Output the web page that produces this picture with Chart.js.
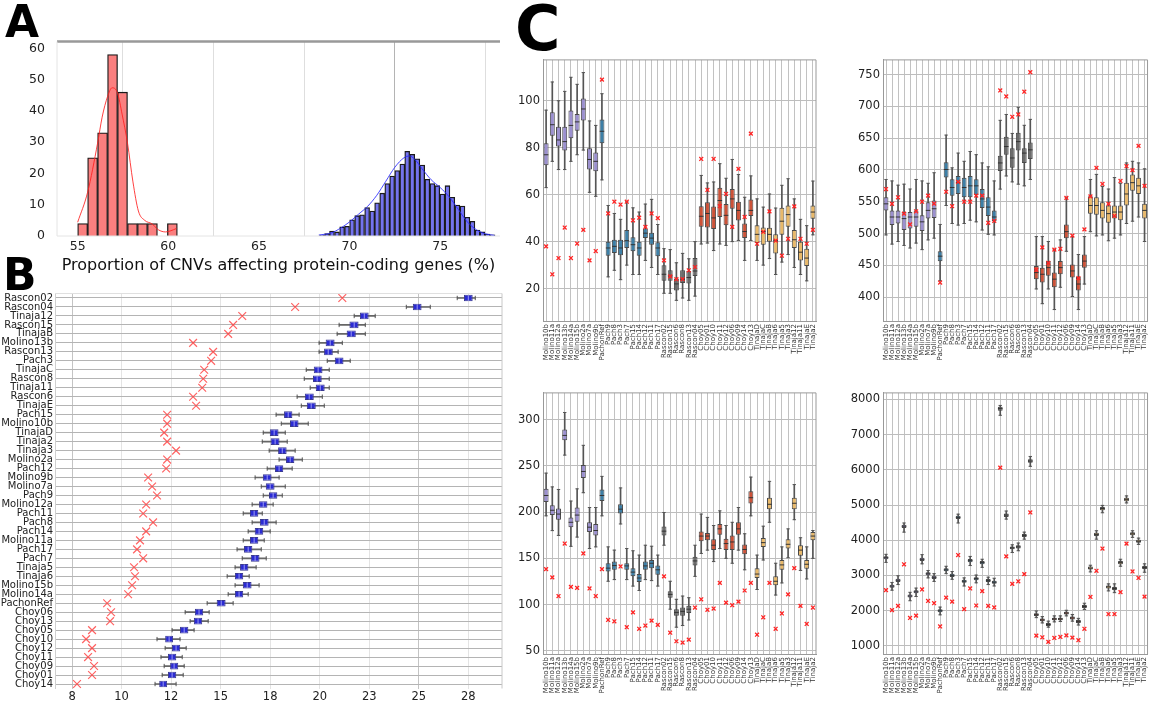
<!DOCTYPE html>
<html>
<head>
<meta charset="utf-8">
<script src="https://cdn.jsdelivr.net/npm/chart.js@4.4.0/dist/chart.umd.min.js"></script>
<style>
  html, body { margin: 0; padding: 0; background: #fff; }
  body { width: 1156px; height: 703px; position: relative; overflow: hidden; font-family: 'DejaVu Sans', sans-serif; }
  canvas { position: absolute; }
  .tag { position: absolute; font-weight: bold; color: #000; line-height: 1; z-index: 5; }
</style>
</head>
<body>
<canvas id="cvA" width="510" height="245" style="left:0;top:30px"></canvas>
<canvas id="cvB" width="510" height="418" style="left:0;top:285px"></canvas>
<canvas id="cvC1" width="320" height="320" style="left:505px;top:50px"></canvas>
<canvas id="cvC2" width="311" height="320" style="left:845px;top:50px"></canvas>
<canvas id="cvC3" width="320" height="320" style="left:505px;top:383px"></canvas>
<canvas id="cvC4" width="311" height="320" style="left:845px;top:383px"></canvas>
<div class="tag" style="left:5px;top:0;font-size:44px">A</div>
<div class="tag" style="left:3px;top:253px;font-size:44px">B</div>
<div class="tag" style="left:515px;top:-2px;font-size:62px">C</div>

<script>
// ---------- A : histogramme des proportions ----------
const redBins   = [55.275, 55.825, 56.375, 56.925, 57.475, 58.025, 58.575, 59.125, 59.675, 60.225];
const redCounts = [4, 25, 33, 58, 46, 4, 4, 4, 0, 4];
const blueBins  = [68.48, 68.76, 69.03, 69.31, 69.59, 69.86, 70.14, 70.42, 70.69, 70.97, 71.25, 71.52,
                   71.80, 72.08, 72.35, 72.63, 72.91, 73.18, 73.46, 73.74, 74.01, 74.29, 74.57, 74.84,
                   75.12, 75.40, 75.67, 75.95, 76.23, 76.50, 76.78, 77.06, 77.33, 77.61, 77.89];
const blueCounts = [0.3, 0.8, 1.6, 1.3, 2.9, 3.1, 5.2, 6.5, 6.8, 9.1, 8.0, 10.6, 13.7, 16.8, 19.2, 20.9,
                    23.0, 27.1, 26.1, 24.7, 22.7, 18.1, 16.8, 16.1, 13.4, 16.1, 12.4, 9.9, 9.6, 6.0, 4.7,
                    1.9, 1.3, 0.6, 0.4];
const redKdeX  = [55.0, 55.55, 56.1, 56.35, 56.65, 56.9, 57.2, 57.45, 57.75, 58.05, 58.35, 58.7, 59.1, 59.45, 59.85, 60.1, 60.45];
const redKdeY  = [4.4, 14, 29.7, 38, 44.6, 47.4, 45.7, 39, 29.7, 17.3, 8, 5, 3.9, 2, 1.3, 1.6, 2.4];
const blueKdeX = [68.3, 69, 69.5, 70, 70.5, 71, 71.5, 72, 72.5, 73, 73.3, 73.6, 74, 74.5, 75, 75.5, 76, 76.5, 77, 77.5, 78];
const blueKdeY = [0.3, 1, 2.5, 4.5, 7, 9.5, 13, 17.5, 22, 25, 25.6, 24.5, 21.5, 18, 15.5, 12.5, 8.5, 4.5, 2, 0.7, 0.2];
const aTicksX = [55, 60, 65, 70, 75];
const aTicksY = [0, 10, 20, 30, 40, 50, 60];

// ---------- B : boîtes horizontales ----------
const bLabels = ['Rascon02','Rascon04','Tinaja12','Rascon15','TinajaB','Molino13b','Rascon13','Pach3','TinajaC','Rascon8',
  'Tinaja11','Rascon6','TinajaE','Pach15','Molino10b','TinajaD','Tinaja2','Tinaja3','Molino2a','Pach12','Molino9b',
  'Molino7a','Pach9','Molino12a','Pach11','Pach8','Pach14','Molino11a','Pach17','Pach7','Tinaja5','Tinaja6',
  'Molino15b','Molino14a','PachonRef','Choy06','Choy13','Choy05','Choy10','Choy12','Choy11','Choy09','Choy01','Choy14'];
const bMed = [27.50,24.92,22.25,21.74,21.59,20.53,20.43,20.98,19.92,19.87,20.03,19.47,19.57,18.41,18.71,17.70,17.75,18.11,
  18.51,17.95,17.35,17.50,17.65,17.15,16.69,17.20,16.94,16.69,16.39,16.74,16.19,15.93,16.34,15.93,15.03,13.91,13.86,
  13.16,12.40,12.75,12.55,12.65,12.55,12.10];
const bQ1 = [27.28,24.70,22.03,21.50,21.36,20.30,20.22,20.76,19.70,19.66,19.80,19.25,19.35,18.20,18.50,17.48,17.52,17.90,
  18.30,17.74,17.13,17.28,17.44,16.94,16.48,16.98,16.72,16.48,16.18,16.52,15.98,15.72,16.12,15.72,14.80,13.70,13.65,
  12.95,12.20,12.54,12.34,12.45,12.34,11.90];
const bQ3 = [27.72,25.14,22.47,21.96,21.82,20.75,20.66,21.20,20.14,20.10,20.25,19.70,19.80,18.62,18.93,17.92,17.97,18.33,
  18.72,18.16,17.57,17.72,17.86,17.36,16.90,17.42,17.15,16.90,16.60,16.96,16.40,16.14,16.56,16.14,15.25,14.12,14.07,
  13.37,12.60,12.96,12.76,12.86,12.76,12.30];
const bLo = [26.94,24.37,21.74,20.98,20.88,19.97,19.97,20.38,19.32,19.22,19.52,18.86,19.07,17.80,18.06,17.15,17.10,17.45,
  17.95,17.35,16.74,17.05,17.15,16.59,16.14,16.59,16.39,16.14,15.83,16.09,15.73,15.33,15.73,15.38,14.32,13.21,13.46,
  12.55,11.79,12.20,11.99,12.15,12.05,11.69];
const bHi = [27.85,25.58,22.80,22.30,22.30,21.14,20.93,21.54,20.48,20.48,20.48,20.13,20.23,18.96,19.42,18.26,18.36,18.76,
  19.12,18.61,17.95,18.26,18.11,17.65,17.10,17.80,17.50,17.20,17.05,17.30,16.79,16.44,16.94,16.39,15.63,14.42,14.37,
  13.66,12.95,13.26,13.06,13.16,13.11,12.75];
const bRef = [21.14,18.76,16.09,15.63,15.38,13.61,14.62,14.52,14.17,14.12,14.07,13.61,13.76,12.30,12.30,12.15,12.30,12.75,
  12.30,12.25,11.34,11.54,11.79,11.24,11.09,11.59,11.24,10.93,10.78,11.09,10.63,10.68,10.53,10.33,9.27,9.47,9.42,
  8.51,8.21,8.51,8.31,8.61,8.51,7.75];
const bTickVals = [7.5, 10, 12.5, 15, 17.5, 20, 22.5, 25, 27.5];
const bTickText = ['8', '10', '12', '15', '18', '20', '23', '25', '28'];

// ---------- C : quatre panneaux de boîtes ----------
const cLabels = ['Molino10b','Molino11a','Molino12a','Molino13b','Molino14a','Molino15b','Molino2a','Molino7a','Molino9b',
  'PachonRef','Pach9','Pach8','Pach3','Pach7','Pach15','Pach14','Pach12','Pach11','Pach17',
  'Rascon02','Rascon15','Rascon6','Rascon8','Rascon13','Rascon04',
  'Choy05','Choy01','Choy10','Choy11','Choy12','Choy06','Choy09','Choy14','Choy13',
  'TinajaD','TinajaC','TinajaB','Tinaja6','Tinaja5','Tinaja3','Tinaja12','Tinaja11','TinajaE','Tinaja2'];

const c1Lo  = [63,74.2,70.7,70.7,74.2,77,79,61,59.3,66.3,25,27.8,23.8,30,26,26,32,29,26,18,18,15,16,15,16.8,39,39.4,36.2,39,38.4,40,40.5,32,40.5,32,30,32.8,26,31.3,34.5,29,26,23.3,42.9];
const c1Q1  = [72.5,85.1,80.5,78.8,84,87.2,91.6,70.7,70,81.9,34,35.2,34.2,37.3,35.9,34,41.5,38.7,33.8,23.3,23.3,19.2,22.4,22.2,25.4,46.3,46,45.4,50.5,47,54,49,41.5,50.9,39.4,38.7,40,35,42.9,46.3,37.3,32,29.6,49.8];
const c1Med = [77,89.8,83.3,82.6,89.5,91,96.5,75,74.2,87,37.3,38,37.3,40.4,38.7,37.3,43.6,41.5,37.3,26.1,25.4,22,24,24.7,27.5,50.8,52,50.1,57.5,51.2,58.2,53.3,44.3,53.3,43.1,44.3,43.1,40.4,48.7,51.5,40.8,35.5,33,52.6];
const c1Q3  = [81.9,95.1,88.9,88.9,95.8,94.4,101,79.8,78,92,40,40.8,40.8,45,41.9,40,45.6,43.8,39.7,29.9,27.8,24.3,27.8,27.5,33,55.1,56.8,55,63,56,62.4,57,47.7,57.9,47,46,45.9,43.1,54.4,55.4,45,40,37,55.4];
const c1Hi  = [96,108,100,104,110,107,112,91.4,89.5,103,55.4,52,49.5,57,54.4,52.6,56,58,47.3,37,36.6,31,35,32.7,40,68.2,65,65.4,73.2,67,75,68.6,58.9,68,58.2,54.7,60.3,54.3,64,66.8,58.2,49.5,46.8,65.8];
const c1Ref = [38,26.1,33,46,33,39.2,45,32,36,109,52,57,55.8,57,49.1,50.2,46.3,52,50,32,25.2,24,24,27.8,29.2,75.2,62,75.2,55.1,60.3,46.3,71,50.5,86,39.1,44.2,52.9,40.4,34,41.2,55,41.2,39.1,45];
const c1Ticks = [20, 40, 60, 80, 100];

const c2Lo  = [497.8,483.4,487.5,481.3,477.2,485,474.7,490,492.7,425.8,544.1,515.8,513.3,515.8,521,518.4,505.5,498.8,497.8,569.9,590.5,581.2,577.6,575,585,412.9,389.7,412.9,380.5,415.5,472.1,401,380.5,420.6,502.9,496.3,497.8,488.6,492.7,497.8,515.8,519.4,526,487.5];
const c2Q1  = [536.4,513.3,515.8,505.5,508,510.7,504,523.5,524.6,456.6,588,559.6,562.2,557,557,560.6,540,527.7,519.4,598.2,623.9,603.3,630.6,611,617.2,428.3,423.2,433.5,415.5,436,492.7,430.9,410.3,446.4,531.3,529.7,523.5,516.9,523.5,521,544.1,567.3,562.2,523.5];
const c2Med = [546.7,526,526,523.5,526,526,518.4,536.4,539,464.4,600.7,572.4,580,572.4,575,575,554.4,541.6,526,611,636.8,618.8,644.5,626.5,631.6,438.6,436,446.4,428.3,446.4,503,441.2,420.6,456.7,544.1,544.1,536.4,531.3,533.8,533.8,562.2,580,575,536.4];
const c2Q3  = [557,536.4,536.4,534,534,536.4,528.7,549.3,551.9,472.1,612.1,585.3,590.5,587.9,590.5,585.3,569.9,557,536.4,622.4,652.2,634.2,658.4,634.2,643,448.9,446.4,456.7,438.6,456.7,514.3,451.5,431.9,467,558.5,557,549.3,544.1,544.1,544.1,580,593,587.9,546.7];
const c2Hi  = [585,582.7,576,577.6,570,585,582.7,579,595.6,514.3,654.8,603.3,626.5,613.6,629,624,611,604.9,582.7,678,687.2,657.4,698.5,670.2,679.5,495.2,495.2,487.5,474.7,490,557,495.2,467,495.2,585,593,574,570,588,579,611,613.6,611,601.8];
const c2Ref = [570,546.7,557,531.3,514.3,535,550,559.6,547,423,565.7,543,581.2,550,550,559.6,559.6,516.9,520,725,715.5,683.6,687.2,723,753.6,442.8,478.3,454,474.7,476,556,496.8,429.9,506.6,558.5,603.3,578,546.7,527.7,582.7,605.9,599.7,637.8,575];
const c2Ticks = [400, 450, 500, 550, 600, 650, 700, 750];

const c3Lo  = [196,180,174.8,261.7,163,173,221,160.6,162.4,196,125.2,127,187.2,127,120,115.2,127,125.9,120,164.2,95,75.5,77.3,83.3,130.5,155.3,158.9,146.5,160.6,150,144.7,158.9,137.6,196,116.3,148.2,189,110.3,123.4,150.7,191.8,136.9,127.7,150];
const c3Q1  = [211,196.8,191.8,277.7,183.7,189.7,236.9,178.4,174.8,212,135.8,137.6,198.6,137.6,130.5,124.5,137.6,139.4,132.3,174.8,107.4,88,88,90.8,142.2,168.4,169.5,158.9,175.5,158.9,158.9,175.5,154.3,209.2,128.7,162.4,203.2,120.9,137.6,160.6,203.2,152.8,138.7,169.5];
const c3Med = [218,202,197.9,283,189,196.8,244,183.7,180.1,218,139.4,142.2,203.2,141.8,135.1,128.7,141.8,144.7,137.6,179.4,111,91.5,92.6,95,147.2,174.1,174.1,164.2,181.9,166,167.7,181.9,159.6,215.6,133,167,208.5,125.2,142.9,165.2,209.6,158.9,143.6,174.1];
const c3Q3  = [225.2,207.4,203.9,289.4,194.3,205,251,189,187.2,224.5,144.7,146.5,208.5,144.7,139.4,133,146.5,148.2,142.2,184.4,114.5,95,96.8,98.6,151.8,179,177.3,170.6,187.2,171.3,174.8,189,164.9,222.7,139.4,172,215.6,130.5,148.2,170.6,215.6,164.2,148.2,178.4];
const c3Hi  = [242.2,227.3,224.5,307.8,212,225.2,272.3,205,205,238.7,162.4,158.9,226.2,160.6,158.2,153.5,164.2,163.1,153.5,199.6,125.2,105.7,109.2,107.4,164.2,197.9,194.3,185.5,201.4,185.5,189,205,176.6,237.9,153.5,184.8,233.3,144.7,162.4,181.9,229.8,172.3,162.4,180.1];
const c3Ref = [138.3,129.4,109.2,166,119.1,118,155.3,117.4,109.2,138.3,83.3,81.9,141.2,75.5,91.5,73.8,77.3,82.6,78,130.5,69.5,60.3,58.9,62,96.8,105.7,94.3,95.7,123.4,102.1,99.3,103.2,115.2,123.4,67.4,86.2,123.4,73.8,90.4,111,139.4,98.6,79,96.8];
const c3Ticks = [50, 100, 150, 200, 250, 300];

const c4Lo  = [3370,2580,2740,4230,2280,2400,3330,2930,2830,1880,3050,2890,4490,2700,3280,2790,3230,2740,2700,7550,4600,3650,3700,4030,6100,1800,1650,1530,1680,1690,1850,1700,1590,2030,3100,4030,4780,2560,2510,3260,5060,4080,3880,3090];
const c4Q1  = [3460,2650,2815,4350,2370,2490,3410,3005,2900,1955,3115,2955,4600,2790,3375,2865,3320,2810,2765,7680,4660,3740,3765,4090,6200,1845,1695,1565,1725,1725,1890,1750,1645,2075,3165,4120,4850,2630,2585,3320,5110,4140,3925,3180];
const c4Med = [3504,2694,2861,4397,2415,2535,3457,3048,2945,1996,3159,3001,4649,2834,3420,2908,3364,2852,2806,7739,4714,3783,3811,4137,6250,1884,1735,1605,1763,1763,1930,1791,1688,2117,3206,4165,4900,2675,2629,3364,5161,4183,3969,3224];
const c4Q3  = [3545,2735,2905,4440,2455,2580,3500,3090,2990,2040,3200,3045,4695,2875,3465,2950,3410,2895,2850,7790,4760,3825,3855,4180,6300,1925,1775,1645,1800,1800,1970,1830,1730,2160,3250,4210,4945,2715,2670,3410,5210,4225,4010,3265];
const c4Hi  = [3600,2800,2990,4490,2520,2640,3590,3140,3050,2100,3260,3110,4740,2930,3540,3010,3460,2950,2920,7830,4830,3870,3920,4230,6380,1990,1830,1700,1850,1850,2010,1890,1780,2210,3290,4270,4990,2760,2760,3460,5260,4270,4060,3330];
const c4Ref = [2582,2014,2135,3317,1791,1856,2601,2275,2210,1549,2368,2256,3578,2042,2629,2145,2554,2135,2089,6064,3541,2759,2833,3038,4788,1288,1241,1111,1223,1251,1297,1232,1158,1484,2387,3131,3764,1903,1903,2526,3904,3113,2927,2396];
const c4Ticks = [1000, 2000, 3000, 4000, 5000, 6000, 7000, 8000];

Chart.defaults.font.family = "'DejaVu Sans', sans-serif";
Chart.defaults.color = '#222';

// cadre autour de la zone de tracé (côtés configurables)
Chart.register({
  id: 'frame',
  afterDraw(chart, args, opts) {
    const { ctx, chartArea: a } = chart;
    const sides = {
      top: [a.left, a.top, a.right, a.top],
      bottom: [a.left, a.bottom, a.right, a.bottom],
      left: [a.left, a.top, a.left, a.bottom],
      right: [a.right, a.top, a.right, a.bottom]
    };
    ctx.save();
    Object.keys(sides).forEach(k => {
      if (!opts[k]) return;
      const [x1, y1, x2, y2] = sides[k];
      ctx.strokeStyle = opts[k].color;
      ctx.lineWidth = opts[k].width;
      ctx.beginPath(); ctx.moveTo(x1, y1); ctx.lineTo(x2, y2); ctx.stroke();
    });
    ctx.restore();
  }
});

const fixW = w => s => { s.width = w; };
const fixH = h => s => { s.height = h; };
const setTicks = vals => s => { s.ticks = vals.map(v => ({ value: v })); };
const base = { responsive: false, animation: false, events: [] };
const noLegend = { legend: { display: false }, tooltip: { enabled: false } };

function groupColor(name) {
  if (name.startsWith('Molino')) return '#9b90cf';
  if (name.startsWith('Pach')) return '#3d7fa6';
  if (name.startsWith('Rascon')) return '#6b6b6b';
  if (name.startsWith('Choy')) return '#cc5238';
  return '#e9b96a';
}
const pairs = (a, b) => a.map((v, i) => [v, b[i]]);
const xy = (xs, ys) => xs.map((x, i) => ({ x: x, y: ys[i] }));

// ---- A
new Chart(document.getElementById('cvA'), {
  type: 'bar',
  data: {
    datasets: [
      { type: 'line', xAxisID: 'x', data: xy(redKdeX, redKdeY), borderColor: 'rgba(255,30,30,0.85)', borderWidth: 1, pointRadius: 0, cubicInterpolationMode: 'monotone' },
      { type: 'line', xAxisID: 'x2', data: xy(blueKdeX, blueKdeY), borderColor: 'rgba(40,40,255,0.85)', borderWidth: 1, pointRadius: 0, cubicInterpolationMode: 'monotone' },
      { xAxisID: 'x', data: xy(redBins, redCounts), backgroundColor: '#fa7f7f', borderColor: '#1a1a1a', borderWidth: 1.3, barPercentage: 1, categoryPercentage: 1, grouped: false },
      { xAxisID: 'x2', data: xy(blueBins, blueCounts), backgroundColor: '#7474ee', borderColor: '#1a1a1a', borderWidth: 1.3, barPercentage: 1, categoryPercentage: 1, grouped: false }
    ]
  },
  options: {
    ...base,
    layout: { padding: { top: 8, right: 10, left: 0, bottom: 0 } },
    plugins: { ...noLegend, frame: { top: { color: '#999', width: 2.5 }, bottom: { color: '#e4e4e4', width: 1 }, left: { color: '#e4e4e4', width: 1 } } },
    scales: {
      x: {
        type: 'linear', min: 53.86, max: 78.3, offset: false, afterBuildTicks: setTicks(aTicksX), afterFit: fixH(39),
        grid: { drawTicks: false, color: c => (c.tick && (c.tick.value === 55 || c.tick.value === 75)) ? '#b4b4b4' : '#dedede' },
        border: { display: false },
        ticks: { font: { size: 12.5 }, color: '#222', padding: 3, callback: v => String(v) },
        title: { display: true, text: 'Proportion of CNVs affecting protein-coding genes (%)', font: { size: 16 }, color: '#111', padding: { top: 1, bottom: 0 } }
      },
      x2: { type: 'linear', display: false, min: 53.86, max: 78.3, offset: false },
      y: {
        min: 0, max: 62.2, afterBuildTicks: setTicks(aTicksY), afterFit: fixW(57),
        grid: { display: false }, border: { display: false },
        ticks: { font: { size: 12.5 }, color: '#222', padding: 4, callback: v => String(v) }
      }
    }
  }
});

// ---- B
new Chart(document.getElementById('cvB'), {
  type: 'bar',
  data: {
    labels: bLabels,
    datasets: [
      { type: 'line', indexAxis: 'y', data: bRef, showLine: false, pointStyle: 'crossRot', pointRadius: 5.5, borderColor: 'rgba(255,60,60,0.8)', borderWidth: 1.2 },
      { type: 'line', indexAxis: 'y', data: bMed, showLine: false, pointStyle: 'line', rotation: 90, pointRadius: 2.8, borderColor: '#9a9af2', borderWidth: 1 },
      { type: 'line', indexAxis: 'y', data: bLo, showLine: false, pointStyle: 'line', rotation: 90, pointRadius: 2.2, borderColor: '#555', borderWidth: 1 },
      { type: 'line', indexAxis: 'y', data: bHi, showLine: false, pointStyle: 'line', rotation: 90, pointRadius: 2.2, borderColor: '#555', borderWidth: 1 },
      { data: pairs(bQ1, bQ3), backgroundColor: '#2b2bd2', borderColor: '#3a3a90', borderWidth: 1, borderSkipped: false, barPercentage: 0.74, categoryPercentage: 1, grouped: false },
      { data: pairs(bLo, bHi), backgroundColor: '#666', barThickness: 1, grouped: false }
    ]
  },
  options: {
    ...base,
    indexAxis: 'y',
    layout: { padding: { top: 8.5, right: 8, left: 0, bottom: 0 } },
    plugins: { ...noLegend, frame: { top: { color: '#e0e0e0', width: 1 }, right: { color: '#c8c8c8', width: 1 } } },
    scales: {
      x: {
        type: 'linear', min: 6.64, max: 29.2, offset: false, afterBuildTicks: setTicks(bTickVals), afterFit: fixH(14.5),
        grid: { drawTicks: false, color: c => (c.tick && (c.tick.value === 7.5 || c.tick.value === 25)) ? '#c4c4c4' : '#e4e4e4' },
        border: { display: false },
        ticks: { font: { size: 11.5 }, color: '#222', padding: 2, callback: v => bTickText[bTickVals.indexOf(v)] }
      },
      y: {
        offset: true, afterFit: fixW(55),
        grid: { offset: false, drawTicks: false, color: '#b4b4b4' },
        border: { color: '#d0d0d0' },
        ticks: { autoSkip: false, font: { size: 10 }, color: '#222', padding: 2 }
      }
    }
  }
});

// ---- C
function boxPanel(id, lo, q1, med, q3, hi, ref, yMin, yMax, yTicks, padRight) {
  return new Chart(document.getElementById(id), {
    type: 'bar',
    data: {
      labels: cLabels,
      datasets: [
        { type: 'line', data: ref, showLine: false, pointStyle: 'crossRot', pointRadius: 2.7, borderColor: '#ff2424', borderWidth: 1.3 },
        { type: 'line', data: med, showLine: false, pointStyle: 'line', pointRadius: 2.3, borderColor: '#333', borderWidth: 1 },
        { type: 'line', data: lo, showLine: false, pointStyle: 'line', pointRadius: 1.7, borderColor: '#555', borderWidth: 1 },
        { type: 'line', data: hi, showLine: false, pointStyle: 'line', pointRadius: 1.7, borderColor: '#555', borderWidth: 1 },
        { data: pairs(q1, q3), backgroundColor: cLabels.map(groupColor), borderColor: '#4a4a4a', borderWidth: 1, borderSkipped: false, barPercentage: 0.8, categoryPercentage: 1, grouped: false },
        { data: pairs(lo, hi), backgroundColor: '#555', barThickness: 1, grouped: false }
      ]
    },
    options: {
      ...base,
      layout: { padding: { top: 5, right: padRight, left: 0, bottom: 0 } },
      plugins: { ...noLegend, frame: { top: { color: '#999', width: 1 }, right: { color: '#999', width: 1 } } },
      scales: {
        x: {
          offset: true, afterFit: fixH(49),
          grid: { offset: false, drawTicks: false, color: '#c2c2c2' },
          border: { color: '#999' },
          ticks: { autoSkip: false, minRotation: 90, maxRotation: 90, font: { size: 7 }, color: '#333', padding: 3 }
        },
        y: {
          min: yMin, max: yMax, afterBuildTicks: setTicks(yTicks), afterFit: fixW(38),
          grid: { drawTicks: false, color: '#bdbdbd' },
          border: { color: '#999' },
          ticks: { font: { size: 11.5 }, color: '#222', padding: 3, callback: v => String(v) }
        }
      }
    }
  });
}

boxPanel('cvC1', c1Lo, c1Q1, c1Med, c1Q3, c1Hi, c1Ref, 6.2, 117.4, c1Ticks, 9);
boxPanel('cvC2', c2Lo, c2Q1, c2Med, c2Q3, c2Hi, c2Ref, 362.5, 773, c2Ticks, 0);
boxPanel('cvC3', c3Lo, c3Q1, c3Med, c3Q3, c3Hi, c3Ref, 46.5, 329, c3Ticks, 9);
boxPanel('cvC4', c4Lo, c4Q1, c4Med, c4Q3, c4Hi, c4Ref, 767, 8186, c4Ticks, 0);
</script>
</body>
</html>
